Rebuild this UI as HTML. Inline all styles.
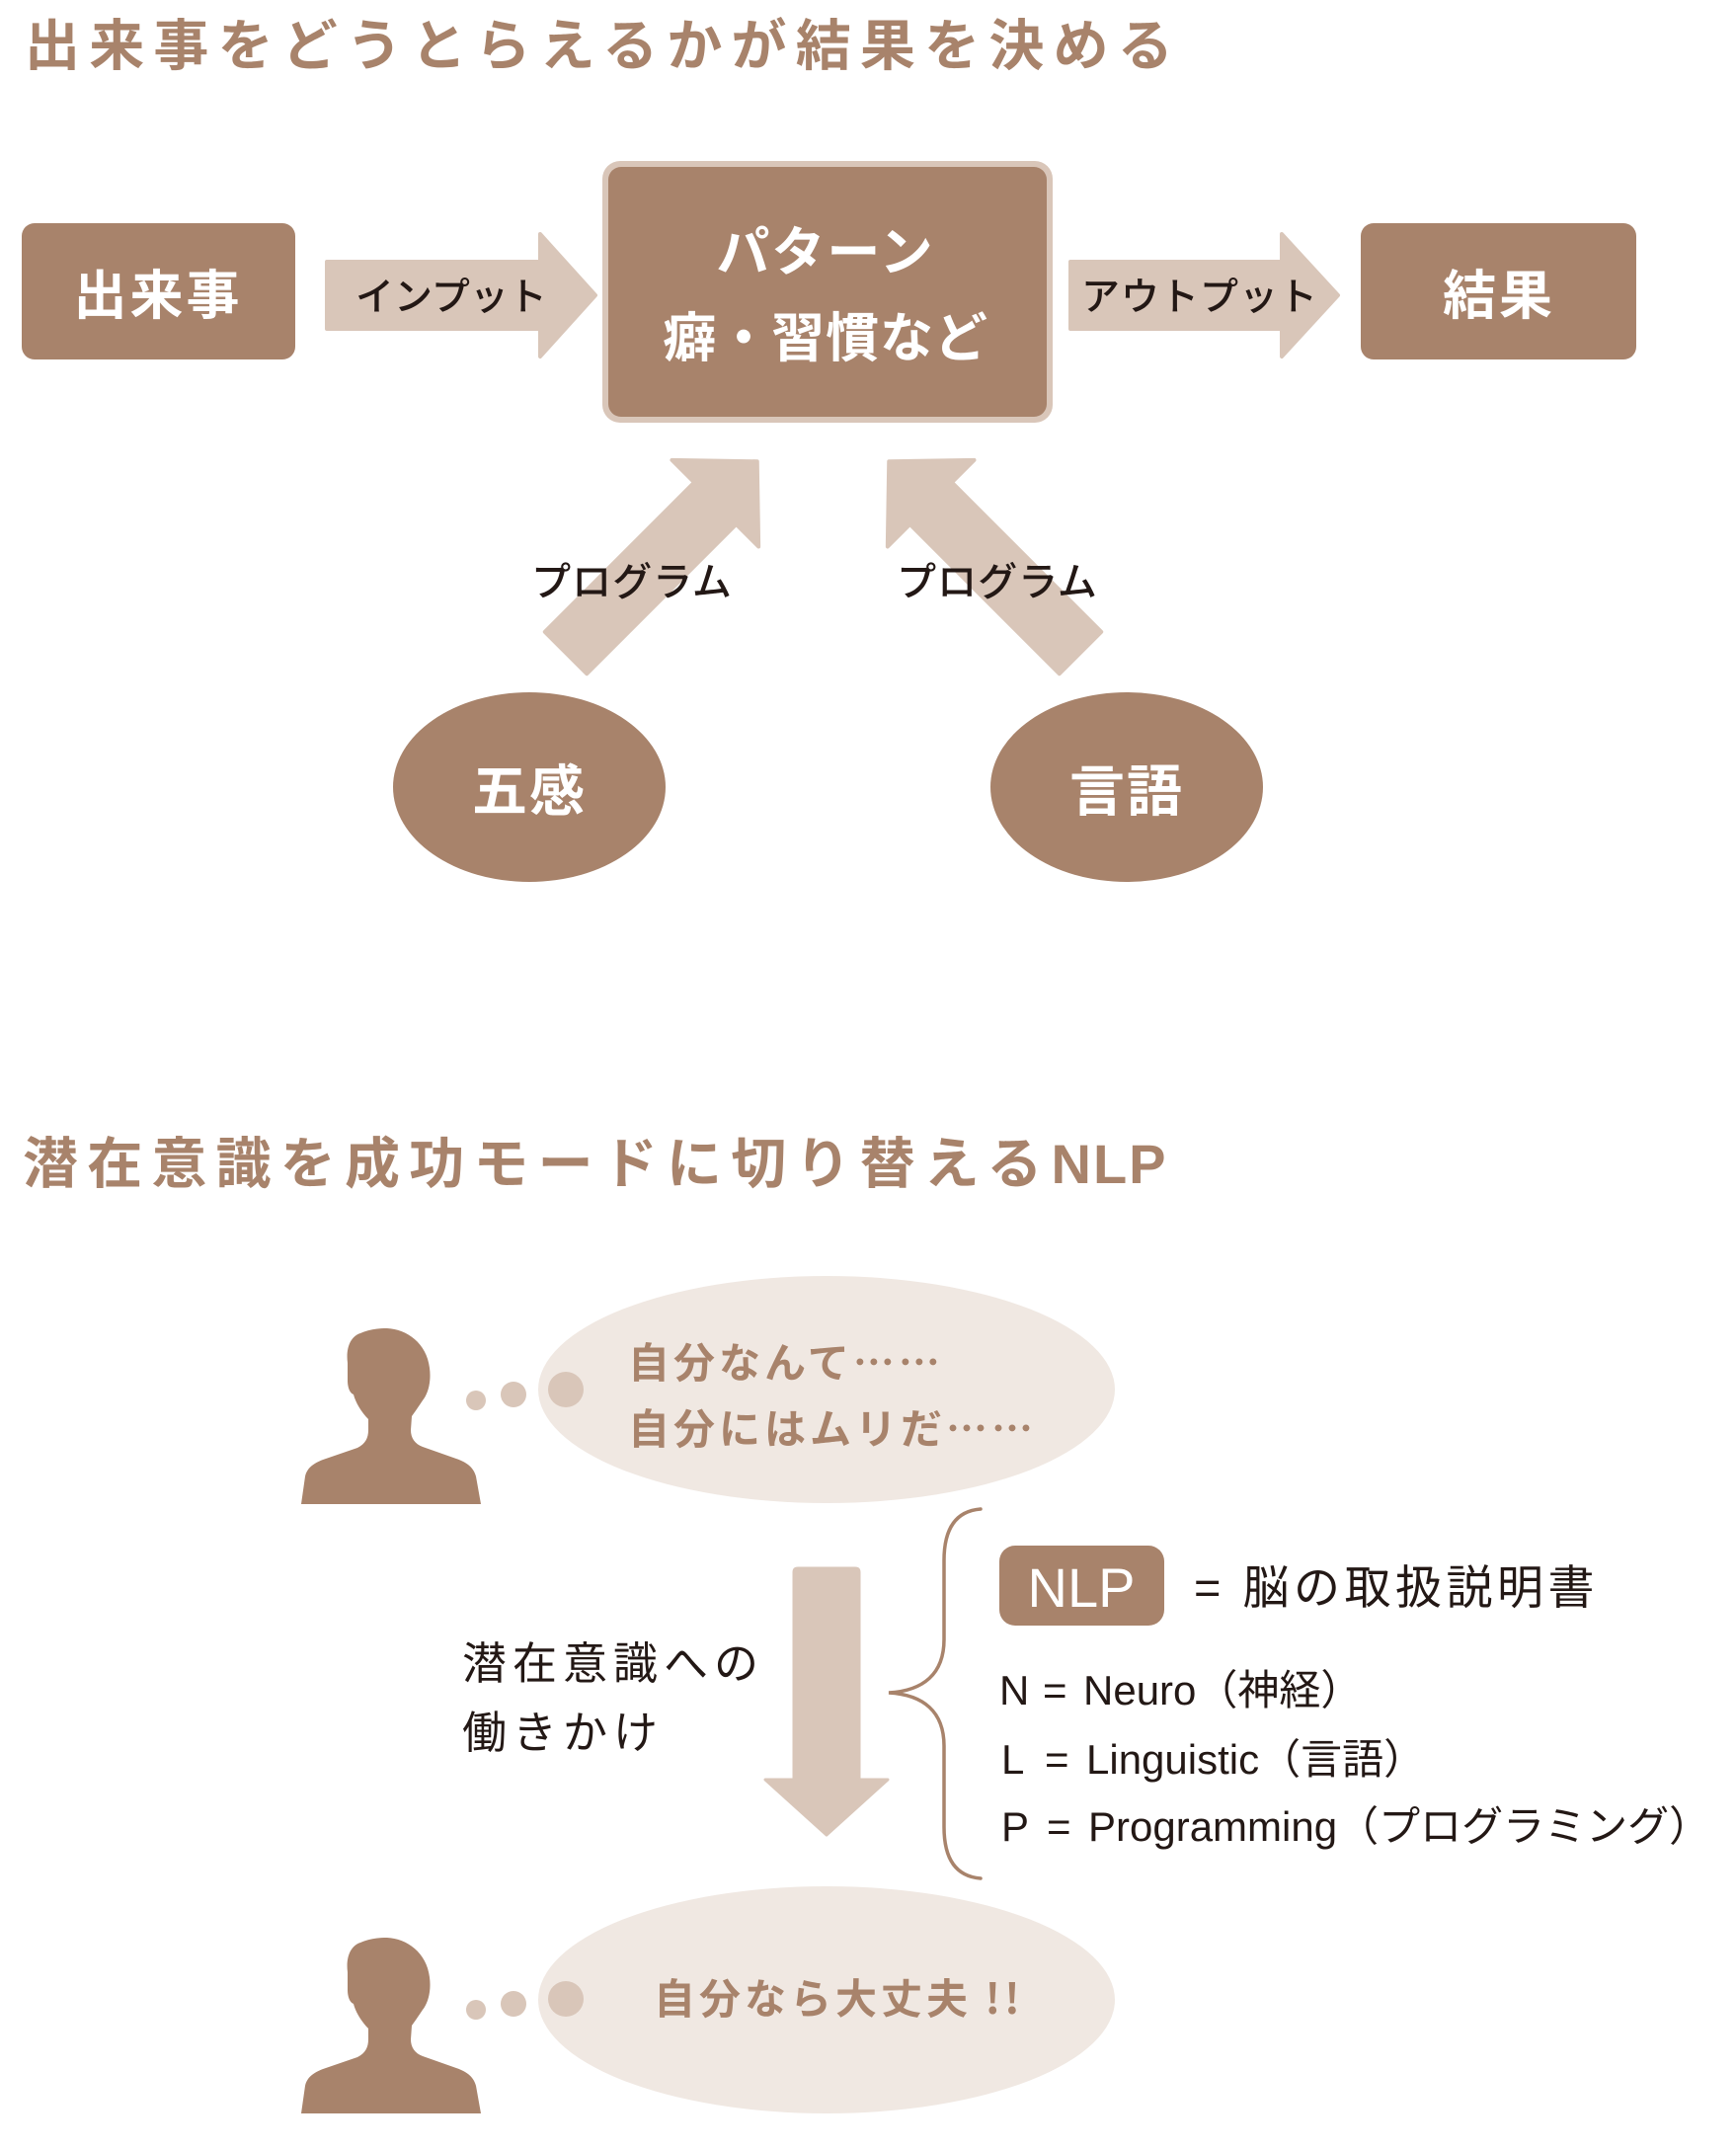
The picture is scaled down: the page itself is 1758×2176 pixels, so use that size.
<!DOCTYPE html>
<html>
<head>
<meta charset="utf-8">
<style>
html,body{margin:0;padding:0;background:#fff;}
body{width:1758px;height:2176px;overflow:hidden;}
svg{display:block;}
text{font-family:"Liberation Sans","Noto Sans CJK JP",sans-serif;}
.jp{font-family:"Noto Sans CJK JP","Liberation Sans",sans-serif;}
.title{fill:#a8836b;font-size:56px;font-weight:700;letter-spacing:9.2px;}
.wb{fill:#ffffff;font-weight:700;}
.blk{fill:#231815;}
.br{fill:#a8836b;font-weight:700;}
</style>
</head>
<body>
<svg width="1758" height="2176" viewBox="0 0 1758 2176" xmlns="http://www.w3.org/2000/svg">
  <!-- Title 1 -->
  <text x="25" y="66" class="title">出来事をどうとらえるかが結果を決める</text>

  <!-- Box 出来事 -->
  <rect x="22" y="226" width="277" height="138" rx="13" fill="#a8836b"/>
  <text x="160" y="318" class="wb" font-size="54" text-anchor="middle" style="letter-spacing:3px">出来事</text>

  <!-- Input arrow -->
  <path d="M331,265 L547,265 L547,237 L603,299 L547,361 L547,333 L331,333 Z" fill="#d9c6b9" stroke="#d9c6b9" stroke-width="4" stroke-linejoin="round"/>
  <text x="360" y="314" class="blk" font-size="39" font-weight="500">インプット</text>

  <!-- Center box -->
  <rect x="610" y="163" width="456" height="265" rx="18" fill="#d9c6b9"/>
  <rect x="616" y="169" width="444" height="253" rx="13" fill="#a8836b"/>
  <text x="836" y="274" class="wb" font-size="54" text-anchor="middle" style="letter-spacing:2px">パターン</text>
  <text x="836" y="361" class="wb" font-size="54" text-anchor="middle" style="letter-spacing:1px">癖・習慣など</text>

  <!-- Output arrow -->
  <path d="M1084,265 L1298,265 L1298,237 L1355,299 L1298,361 L1298,333 L1084,333 Z" fill="#d9c6b9" stroke="#d9c6b9" stroke-width="4" stroke-linejoin="round"/>
  <text x="1095" y="314" class="blk" font-size="39" font-weight="500" style="letter-spacing:1px">アウトプット</text>

  <!-- Box 結果 -->
  <rect x="1378" y="226" width="279" height="138" rx="13" fill="#a8836b"/>
  <text x="1518" y="318" class="wb" font-size="54" text-anchor="middle" style="letter-spacing:3px">結果</text>

  <!-- Diagonal program arrows -->
  <g transform="translate(573,661) rotate(-45)">
    <path d="M0,-30 L214,-30 L214,-62 L274,0 L214,62 L214,30 L0,30 Z" fill="#d9c6b9" stroke="#d9c6b9" stroke-width="4" stroke-linejoin="round"/>
  </g>
  <g transform="translate(1094,661) rotate(-135)">
    <path d="M0,-30 L214,-30 L214,-62 L274,0 L214,62 L214,30 L0,30 Z" fill="#d9c6b9" stroke="#d9c6b9" stroke-width="4" stroke-linejoin="round"/>
  </g>
  <text x="640" y="603" class="blk" font-size="40" text-anchor="middle" font-weight="500" style="letter-spacing:1px">プログラム</text>
  <text x="1010" y="603" class="blk" font-size="40" text-anchor="middle" font-weight="500" style="letter-spacing:1px">プログラム</text>

  <!-- Ellipses -->
  <ellipse cx="536" cy="797" rx="138" ry="96" fill="#a8836b"/>
  <text x="536" y="821" class="wb" font-size="56" text-anchor="middle" style="letter-spacing:2px">五感</text>
  <ellipse cx="1141" cy="797" rx="138" ry="96" fill="#a8836b"/>
  <text x="1141" y="821" class="wb" font-size="56" text-anchor="middle" style="letter-spacing:2px">言語</text>

  <!-- Title 2 -->
  <text x="23" y="1198" class="title">潜在意識を成功モードに切り替える<tspan style="letter-spacing:2px">NLP</tspan></text>

  <!-- Bubble 1 -->
  <ellipse cx="837" cy="1407" rx="292" ry="115" fill="#f0e8e2"/>
  <circle cx="482" cy="1418" r="10" fill="#d9c6b9"/>
  <circle cx="520" cy="1412" r="13" fill="#d9c6b9"/>
  <circle cx="573" cy="1407" r="18" fill="#d9c6b9"/>
  <text x="636" y="1395" class="br jp" font-size="42" style="letter-spacing:4px">自分なんて……</text>
  <text x="636" y="1462" class="br jp" font-size="42" style="letter-spacing:4px">自分にはムリだ……</text>

  <!-- Person 1 -->
  <path id="person" d="M305,1523 L309,1495 C311,1486 318,1481 330,1477 L362,1466 C370,1462 373,1456 373,1448 L373,1437 C366,1430 360,1420 358,1412 C353,1410 352,1402 352,1398 L352,1380 C350,1365 355,1353 365,1350 C372,1347 380,1345 392,1345 C412,1346 432,1360 435,1385 C437,1400 433,1412 428,1418 C424,1424 420,1430 417,1434 L416,1448 C416,1456 420,1462 428,1465 L462,1477 C474,1481 480,1487 482,1495 L487,1523 Z" fill="#a8836b"/>

  <!-- Down arrow -->
  <path d="M804,1592 Q804,1588 808,1588 L866,1588 Q870,1588 870,1592 L870,1802 L899,1802 L837,1858 L775,1802 L804,1802 Z" fill="#d9c6b9" stroke="#d9c6b9" stroke-width="3" stroke-linejoin="round"/>
  <text x="468" y="1700" class="blk" font-size="45" style="letter-spacing:6px">潜在意識への</text>
  <text x="468" y="1770" class="blk" font-size="45" style="letter-spacing:6px">働きかけ</text>

  <!-- Brace -->
  <path d="M993,1528 C968,1530 956,1548 956,1580 L956,1660 C956,1695 935,1712 900,1714 C935,1716 956,1733 956,1768 L956,1850 C956,1882 968,1900 993,1902" fill="none" stroke="#a8836b" stroke-width="3.5" stroke-linecap="round"/>

  <!-- NLP badge -->
  <rect x="1012" y="1565" width="167" height="81" rx="16" fill="#a8836b"/>
  <text x="1095" y="1627" fill="#ffffff" font-size="56" text-anchor="middle" style="font-family:'Liberation Sans',sans-serif">NLP</text>
  <text x="1209" y="1624" class="blk" font-size="47" style="letter-spacing:4.5px">= 脳の取扱説明書</text>

  <text y="1726" class="blk" font-size="42"><tspan x="1012">N</tspan><tspan x="1056">=</tspan><tspan x="1097">Neuro</tspan><tspan>（神経）</tspan></text>
  <text y="1796" class="blk" font-size="42"><tspan x="1014">L</tspan><tspan x="1058">=</tspan><tspan x="1100">Linguistic</tspan><tspan>（言語）</tspan></text>
  <text y="1864" class="blk" font-size="42"><tspan x="1014">P</tspan><tspan x="1060">=</tspan><tspan x="1102">Programming</tspan><tspan>（プログラミング）</tspan></text>

  <!-- Bubble 2 -->
  <ellipse cx="837" cy="2025" rx="292" ry="115" fill="#f0e8e2"/>
  <circle cx="482" cy="2035" r="10" fill="#d9c6b9"/>
  <circle cx="520" cy="2029" r="13" fill="#d9c6b9"/>
  <circle cx="573" cy="2024" r="18" fill="#d9c6b9"/>
  <text x="662" y="2039" class="br jp" font-size="42" style="letter-spacing:4px">自分なら大丈夫 !!</text>

  <!-- Person 2 -->
  <use href="#person" transform="translate(0,617)"/>
</svg>
</body>
</html>
